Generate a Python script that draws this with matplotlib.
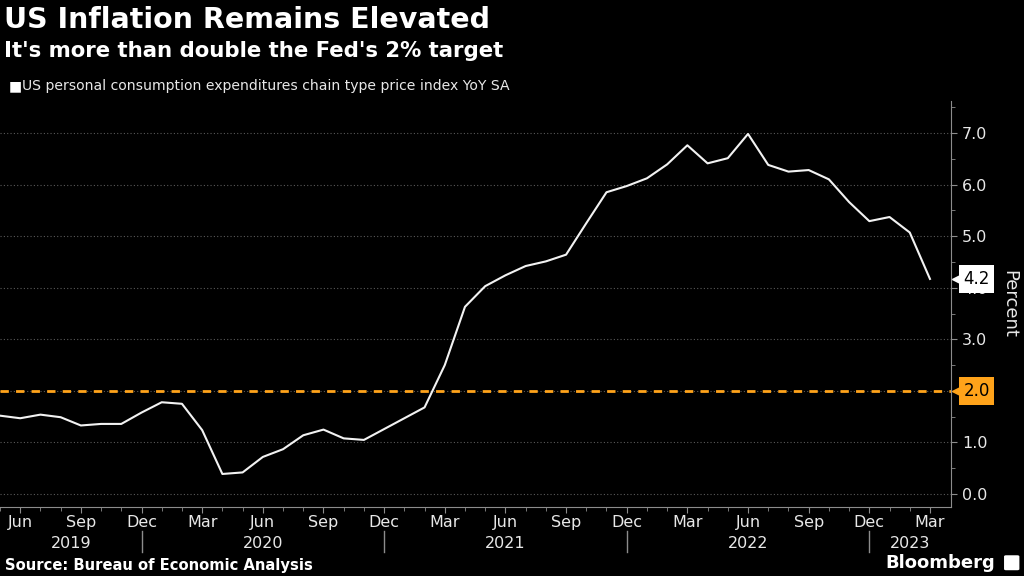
import matplotlib
matplotlib.use("Agg")
import matplotlib.pyplot as plt
import matplotlib.transforms as mtransforms
from matplotlib.patches import FancyBboxPatch
from matplotlib.ticker import MultipleLocator, FixedLocator, FuncFormatter
import pandas as pd

# monthly PCE YoY, May 2019 .. Mar 2023
start = "2019-05-31"
pce = [1.52, 1.47, 1.54, 1.49, 1.33, 1.36, 1.36, 1.58,
       1.78, 1.75, 1.24, 0.39, 0.42, 0.72, 0.87, 1.14, 1.25, 1.08, 1.05, 1.26,
       1.47, 1.68, 2.50, 3.63, 4.03, 4.24, 4.42, 4.51, 4.64, 5.25, 5.85, 5.97,
       6.12, 6.39, 6.76, 6.41, 6.51, 6.98, 6.38, 6.25, 6.28, 6.10, 5.66, 5.29,
       5.37, 5.07, 4.17]
target = 2.0
label_months = [3, 6, 9, 12]

title = "US Inflation Remains Elevated"
subtitle = "It's more than double the Fed's 2% target"
legend_label = "US personal consumption expenditures chain type price index YoY SA"
source = "Source: Bureau of Economic Analysis"

dates = pd.date_range(start, periods=len(pce), freq="ME")
x = list(range(len(pce)))

fg = "#e8e8e8"
grey = "#8c8c8c"
orange = "#ffa31a"

fig = plt.figure(figsize=(10.24, 5.76), dpi=100, facecolor="black")
ax = fig.add_axes([0, 0.1198, 0.9287, 0.705])
ax.set_facecolor("black")

ax.plot(x, pce, color="#f2f2f2", lw=1.5, zorder=3)
ax.axhline(target, color=orange, lw=2, ls=(0, (3, 2.6)), zorder=2)

ax.set_xlim(0, len(pce) + 0.04)
ax.set_ylim(-0.25, 7.62)


def ylab(v, p):
    # the target box stands in for its own tick label
    if abs(v - target) < 1e-9:
        return ""
    return "%.1f" % v


# y axis on the right
ax.yaxis.tick_right()
ax.yaxis.set_label_position("right")
ax.yaxis.set_major_locator(MultipleLocator(1))
ax.yaxis.set_minor_locator(MultipleLocator(0.5))
ax.yaxis.set_major_formatter(FuncFormatter(ylab))
ax.set_ylabel("Percent", color=fg, fontsize=13, rotation=270, labelpad=22)
ax.grid(axis="y", color="#5a5a5a", ls=(0, (1, 2)), lw=0.8)

# x axis: month ticks
ticks = [i for i, d in enumerate(dates) if d.month in label_months]
ax.xaxis.set_major_locator(FixedLocator(ticks))
ax.xaxis.set_minor_locator(FixedLocator(x))
ax.set_xticklabels([dates[i].strftime("%b") for i in ticks])

ax.tick_params(axis="both", which="both", colors=grey, labelcolor=fg, labelsize=11.5)
ax.tick_params(axis="x", which="major", length=4, pad=2)
ax.tick_params(axis="x", which="minor", length=3)
ax.tick_params(axis="y", which="major", length=4, pad=4)
ax.tick_params(axis="y", which="minor", length=3)

for s in ["left", "top"]:
    ax.spines[s].set_visible(False)
for s in ["right", "bottom"]:
    ax.spines[s].set_color(grey)

# year labels and separators
trans = mtransforms.blended_transform_factory(ax.transData, ax.transAxes)
seps = [i for i, d in enumerate(dates) if d.month == 12]
edges = [ax.get_xlim()[0]] + seps + [ax.get_xlim()[1]]
years = sorted(set(d.year for d in dates))
for k, yr in enumerate(years):
    mid = (edges[k] + edges[k + 1]) / 2
    ax.text(mid, -0.09, str(yr), transform=trans, ha="center", va="center",
            color=fg, fontsize=11.5)
for s in seps:
    ax.plot([s, s], [-0.06, -0.11], transform=trans, color=grey, lw=1, clip_on=False)

# value labels on the right axis
ytrans = mtransforms.blended_transform_factory(ax.transAxes, ax.transData)
last = pce[-1]
ax.plot(1.007, last, marker="<", ms=8, color="white", transform=ytrans, clip_on=False, zorder=5)
ax.text(1.013, last, "%.1f" % last, transform=ytrans, ha="left", va="center",
        fontsize=12, color="black", zorder=6,
        bbox=dict(boxstyle="square,pad=0.28", fc="white", ec="none"))
ax.plot(1.007, target, marker="<", ms=8, color=orange, transform=ytrans, clip_on=False, zorder=5)
ax.text(1.013, target, "%.1f" % target, transform=ytrans, ha="left", va="center",
        fontsize=12, color="black", zorder=6,
        bbox=dict(boxstyle="square,pad=0.28", fc=orange, ec="none"))

# titles, legend, footer
fig.text(0.004, 0.965, title, color="white", fontsize=20.5, fontweight="bold", va="center")
fig.text(0.004, 0.912, subtitle, color="white", fontsize=15.3, fontweight="bold", va="center")
fig.text(0.009, 0.851, "\u25a0", color="white", fontsize=10, va="center")
fig.text(0.021, 0.851, legend_label, color=fg, fontsize=10.1, va="center")
fig.text(0.005, 0.019, source, color="white", fontsize=10.6, fontweight="bold", va="center")
fig.text(0.972, 0.022, "Bloomberg", color="white", fontsize=13, fontweight="bold",
         va="center", ha="right")
logo = FancyBboxPatch((0.9825, 0.012), 0.011, 0.022, boxstyle="round,pad=0.002",
                      transform=fig.transFigure, fc="white", ec="none")
fig.patches.append(logo)

fig.savefig("out.png", dpi=100, facecolor="black")
